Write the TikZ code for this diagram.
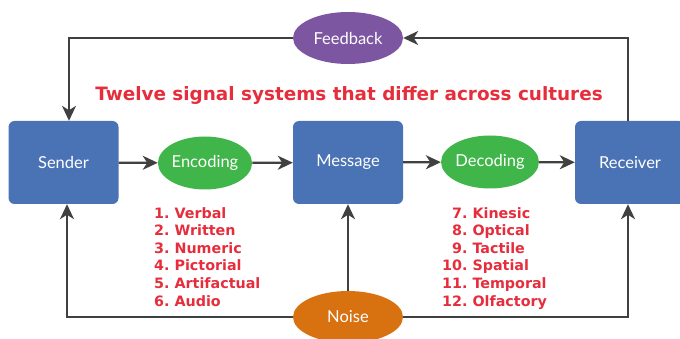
\documentclass[tikz,border=0pt]{standalone}
\usepackage{fontspec}
\setmainfont{Lato}
\newfontfamily\listfont{DejaVu Sans}
\usetikzlibrary{arrows.meta,shapes.geometric}

\definecolor{boxblue}{RGB}{74,115,182}
\definecolor{codegreen}{RGB}{64,182,74}
\definecolor{fbpurple}{RGB}{124,86,160}
\definecolor{noiseorange}{RGB}{216,113,16}
\definecolor{signalred}{RGB}{230,45,60}
\definecolor{linegray}{RGB}{64,64,64}

\tikzset{
  label font/.style={font=\fontsize{16.5}{19}\selectfont, text=white},
  stagebox/.style={rectangle, rounded corners=6pt, fill=boxblue, draw=none,
    minimum width=110pt, minimum height=83pt, inner sep=0pt, label font},
  coder/.style={ellipse, fill=codegreen, draw=none, minimum width=87pt,
    minimum height=53pt, inner sep=0pt, label font},
  loopnode/.style={ellipse, draw=none, minimum width=110pt,
    minimum height=52pt, inner sep=0pt, label font},
  flow/.style={draw=linegray, line width=2.2pt,
    -{Stealth[length=15pt,width=14pt,inset=4.5pt]}},
  listtext/.style={font=\listfont\bfseries\fontsize{14.3}{17.6}\selectfont,
    text=signalred, inner sep=0pt},
}

\begin{document}
\begin{tikzpicture}[x=1pt,y=-1pt]
\useasboundingbox (0,0) rectangle (680,339);
\clip (0,0) rectangle (680,339);

% main chain
\node[stagebox] (sender)   at (63.5,162.5) {Sender};
\node[coder]    (encoding) at (205,163)    {Encoding};
\node[stagebox] (message)  at (348,162.5)  {Message};
\node[coder]    (decoding) at (490,162)    {Decoding};
\node[stagebox] (receiver) at (630,162.5)  {Receiver};

% feedback and noise
\node[loopnode, fill=fbpurple]    (feedback) at (348,38)  {Feedback};
\node[loopnode, fill=noiseorange] (noise)    at (348,317) {Noise};

% title
\node[font=\listfont\bfseries\fontsize{18.4}{22}\selectfont, text=signalred,
      anchor=base, inner sep=0pt] (title) at (349,101)
  {Twelve signal systems that differ across cultures};

% the twelve signal systems
\node[listtext, anchor=north west] (listA) at (154,205.5) {%
  \begin{tabular}{@{}r@{\ }l@{}}
  1.&Verbal\\ 2.&Written\\ 3.&Numeric\\ 4.&Pictorial\\ 5.&Artifactual\\ 6.&Audio
  \end{tabular}};
\node[listtext, anchor=north west] (listB) at (442,205.5) {%
  \begin{tabular}{@{}r@{\ }l@{}}
  7.&Kinesic\\ 8.&Optical\\ 9.&Tactile\\ 10.&Spatial\\ 11.&Temporal\\ 12.&Olfactory
  \end{tabular}};

% connectors along the chain
\draw[flow] (sender) -- (encoding);
\draw[flow] (encoding) -- (message);
\draw[flow] (message) -- (decoding);
\draw[flow] (decoding) -- (receiver);

% feedback loop
\draw[flow] ([xshift=-2pt]receiver.north) |- (feedback);
\draw[flow] (feedback) -| ([xshift=5.5pt]sender.north);

% noise paths
\draw[flow] (noise) -- (message);
\draw[flow] (noise) -| ([xshift=3.5pt]sender.south);
\draw[flow] (noise) -| ([xshift=-2pt]receiver.south);
\end{tikzpicture}
\end{document}
